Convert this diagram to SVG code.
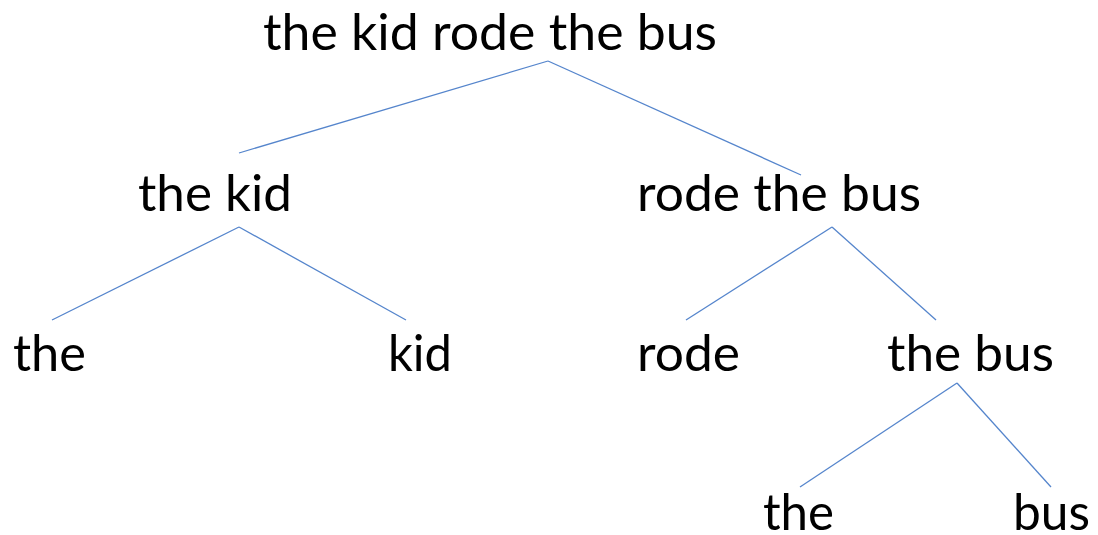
<svg xmlns="http://www.w3.org/2000/svg" width="1098" height="535" viewBox="0 0 1098 535">
<style>
.t{font-family:Lato,"Open Sans","Liberation Sans",sans-serif;font-size:50px;fill:#000}
.c line{stroke:#5585cc;stroke-width:1.3;fill:none}
</style>
<rect width="1098" height="535" fill="#fff"/>
<g id="connectors" class="c">
<line x1="548" y1="61" x2="239" y2="153"/>
<line x1="548" y1="61" x2="801" y2="175"/>
<line x1="239" y1="227" x2="52" y2="320"/>
<line x1="239" y1="227" x2="406" y2="320"/>
<line x1="832" y1="227" x2="686" y2="320"/>
<line x1="832" y1="227" x2="936" y2="320"/>
<line x1="957" y1="383" x2="800" y2="487"/>
<line x1="957" y1="383" x2="1051" y2="487"/>
</g>
<g id="n-root"><text class="t" x="263" y="50" textLength="454" lengthAdjust="spacingAndGlyphs">the kid rode the bus</text></g>
<g id="n-thekid"><text class="t" x="138" y="211" textLength="154" lengthAdjust="spacingAndGlyphs">the kid</text></g>
<g id="n-rodethebus"><text class="t" x="637" y="211" textLength="284" lengthAdjust="spacingAndGlyphs">rode the bus</text></g>
<g id="n-the1"><text class="t" x="13" y="371" textLength="73" lengthAdjust="spacingAndGlyphs">the</text></g>
<g id="n-kid"><text class="t" x="388" y="371" textLength="64" lengthAdjust="spacingAndGlyphs">kid</text></g>
<g id="n-rode"><text class="t" x="637" y="371" textLength="103" lengthAdjust="spacingAndGlyphs">rode</text></g>
<g id="n-thebus"><text class="t" x="887" y="371" textLength="167" lengthAdjust="spacingAndGlyphs">the bus</text></g>
<g id="n-the2"><text class="t" x="763" y="530" textLength="71" lengthAdjust="spacingAndGlyphs">the</text></g>
<g id="n-bus"><text class="t" x="1013" y="530" textLength="77" lengthAdjust="spacingAndGlyphs">bus</text></g>
</svg>
